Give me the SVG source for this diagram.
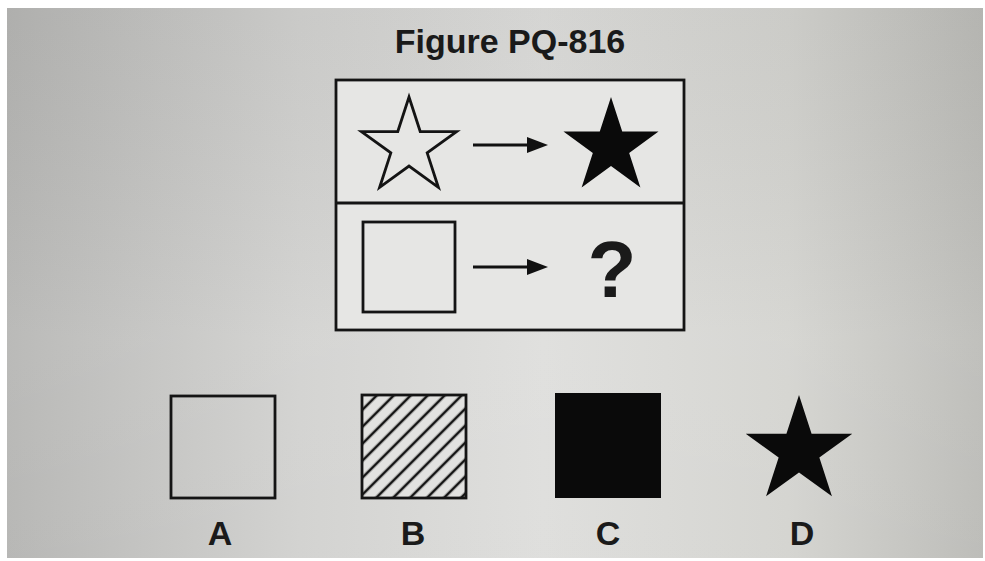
<svg xmlns="http://www.w3.org/2000/svg" width="985" height="561" viewBox="0 0 985 561">
  <defs>
    <linearGradient id="bg" x1="0" y1="0" x2="1" y2="0">
      <stop offset="0" stop-color="#b6b6b4"/>
      <stop offset="0.3" stop-color="#d2d2d0"/>
      <stop offset="0.55" stop-color="#dededc"/>
      <stop offset="0.8" stop-color="#d4d4d0"/>
      <stop offset="1" stop-color="#bcbcb8"/>
    </linearGradient>
    <linearGradient id="bgv" x1="0" y1="0" x2="0" y2="1">
      <stop offset="0" stop-color="#000" stop-opacity="0.04"/>
      <stop offset="0.6" stop-color="#fff" stop-opacity="0.06"/>
      <stop offset="1" stop-color="#fff" stop-opacity="0.02"/>
    </linearGradient>
    <pattern id="hatch" patternUnits="userSpaceOnUse" width="12" height="12" patternTransform="rotate(-45)">
      <rect width="12" height="12" fill="#e2e2e0"/>
      <line x1="0" y1="6" x2="12" y2="6" stroke="#111" stroke-width="2.6"/>
    </pattern>
    <polygon id="star" points="0,-50 11.23,-15.45 47.55,-15.45 18.17,5.9 29.39,40.45 0,19.1 -29.39,40.45 -18.17,5.9 -47.55,-15.45 -11.23,-15.45"/>
    <marker id="ah" markerUnits="userSpaceOnUse" markerWidth="22" markerHeight="18" refX="0" refY="8" orient="auto">
      <path d="M0,0 L21,8 L0,16 z" fill="#111"/>
    </marker>
  </defs>
  <style>
    .ln { fill: none; stroke: #141414; stroke-width: 2.8; }
    .fill { fill: #0a0a0a; }
    .lbl { font-family: "Liberation Sans", Arial, sans-serif; font-weight: bold; fill: #1a1a1a; text-anchor: middle; }
    .conn { stroke: #111; stroke-width: 3; fill: none; }
  </style>
  <rect x="0" y="0" width="985" height="561" fill="#ffffff"/>
  <rect x="7" y="8" width="976" height="550" fill="url(#bg)"/>
  <rect x="7" y="8" width="976" height="550" fill="url(#bgv)"/>

  <g id="title">
    <text class="lbl" x="510" y="53" font-size="34">Figure PQ-816</text>
  </g>

  <g id="panel">
    <rect x="336" y="80" width="348" height="250" fill="#e6e6e4" stroke="#141414" stroke-width="2.8"/>
    <line class="ln" x1="336" y1="203" x2="684" y2="203"/>
  </g>

  <g id="star-outline">
    <use href="#star" x="0" y="0" transform="translate(409,147)" fill="none" stroke="#141414" stroke-width="2.8" stroke-linejoin="miter"/>
  </g>
  <g id="star-filled">
    <use href="#star" transform="translate(611,147)" class="fill"/>
  </g>
  <g id="square-outline">
    <rect class="ln" x="363" y="222" width="92" height="90"/>
  </g>
  <g id="question">
    <text class="lbl" x="612" y="297" font-size="80" fill="#0a0a0a">?</text>
  </g>

  <g id="connectors">
    <line class="conn" x1="473" y1="145" x2="527" y2="145" marker-end="url(#ah)"/>
    <line class="conn" x1="473" y1="267" x2="527" y2="267" marker-end="url(#ah)"/>
  </g>

  <g id="option-A">
    <rect class="ln" x="171" y="396" width="104" height="102"/>
    <text class="lbl" x="220" y="545" font-size="34">A</text>
  </g>
  <g id="option-B">
    <rect x="362" y="395" width="104" height="103" fill="url(#hatch)" stroke="#141414" stroke-width="2.8"/>
    <text class="lbl" x="413" y="545" font-size="34">B</text>
  </g>
  <g id="option-C">
    <rect class="fill" x="555" y="393" width="106" height="105"/>
    <text class="lbl" x="608" y="545" font-size="34">C</text>
  </g>
  <g id="option-D">
    <use href="#star" transform="translate(799,451) scale(1.12)" class="fill"/>
    <text class="lbl" x="802" y="545" font-size="34">D</text>
  </g>
</svg>
